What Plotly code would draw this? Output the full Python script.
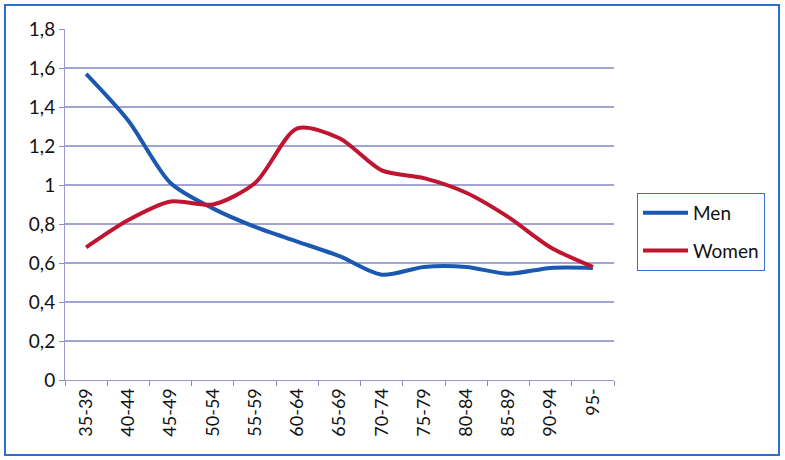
import plotly.graph_objects as go

categories = ["35-39", "40-44", "45-49", "50-54", "55-59", "60-64", "65-69",
              "70-74", "75-79", "80-84", "85-89", "90-94", "95-"]
men = [1.57, 1.33, 1.01, 0.88, 0.785, 0.71, 0.635, 0.54, 0.58, 0.58, 0.545, 0.575, 0.575]
women = [0.68, 0.82, 0.915, 0.90, 1.01, 1.29, 1.24, 1.075, 1.035, 0.96, 0.835, 0.68, 0.58]
y_ticks = [0, 0.2, 0.4, 0.6, 0.8, 1.0, 1.2, 1.4, 1.6, 1.8]

W, H = 785, 460
L, R, T, B = 65, 614, 29, 380

fig = go.Figure()
fig.add_trace(go.Scatter(x=categories, y=men, name="Men", mode="lines",
                         line=dict(color="#1b59b0", width=4, shape="spline", smoothing=0.8),
                         legendgroup="m"))
fig.add_trace(go.Scatter(x=categories, y=women, name="Women", mode="lines",
                         line=dict(color="#c01530", width=4, shape="spline", smoothing=0.8),
                         legendgroup="w"))

pw, ph = R - L, B - T
def px(x):
    return (x - L) / pw
def py(y):
    return (B - y) / ph

fig.add_shape(type="rect", xref="paper", yref="paper",
              x0=px(5), x1=px(779), y0=py(455), y1=py(5),
              line=dict(color="#2a6fd0", width=2), fillcolor="rgba(0,0,0,0)", layer="below")

fig.update_layout(
    width=W, height=H,
    margin=dict(l=L, r=W - R, t=T, b=H - B),
    paper_bgcolor="white", plot_bgcolor="white",
    separators=", ",
    font=dict(family="Lato, Open Sans, sans-serif", color="#111111"),
    showlegend=True,
    legend=dict(x=px(637), y=py(193), xanchor="left", yanchor="top",
                bordercolor="#3a70c8", borderwidth=1,
                font=dict(size=19, color="#111111"),
                traceorder="grouped", tracegroupgap=10,
                itemwidth=45),
    xaxis=dict(type="category", range=[-0.5, 12.5], showgrid=False,
               tickangle=-90, tickfont=dict(size=18),
               ticks="outside", tickson="boundaries", ticklen=5, tickcolor="#8a8ab8",
               showline=True, linecolor="#9a9acc", linewidth=1),
    yaxis=dict(range=[0, 1.8], tickvals=y_ticks, tickformat=".1~f",
               tickfont=dict(size=19), showgrid=True, gridcolor="#a4a4d2", gridwidth=1.5,
               zeroline=False,
               ticks="outside", ticklen=5, tickcolor="#8a8ab8",
               showline=True, linecolor="#9a9acc", linewidth=1),
)

fig.write_html("out.html", config={"displayModeBar": False},
               post_script="document.body.style.margin='0';")
